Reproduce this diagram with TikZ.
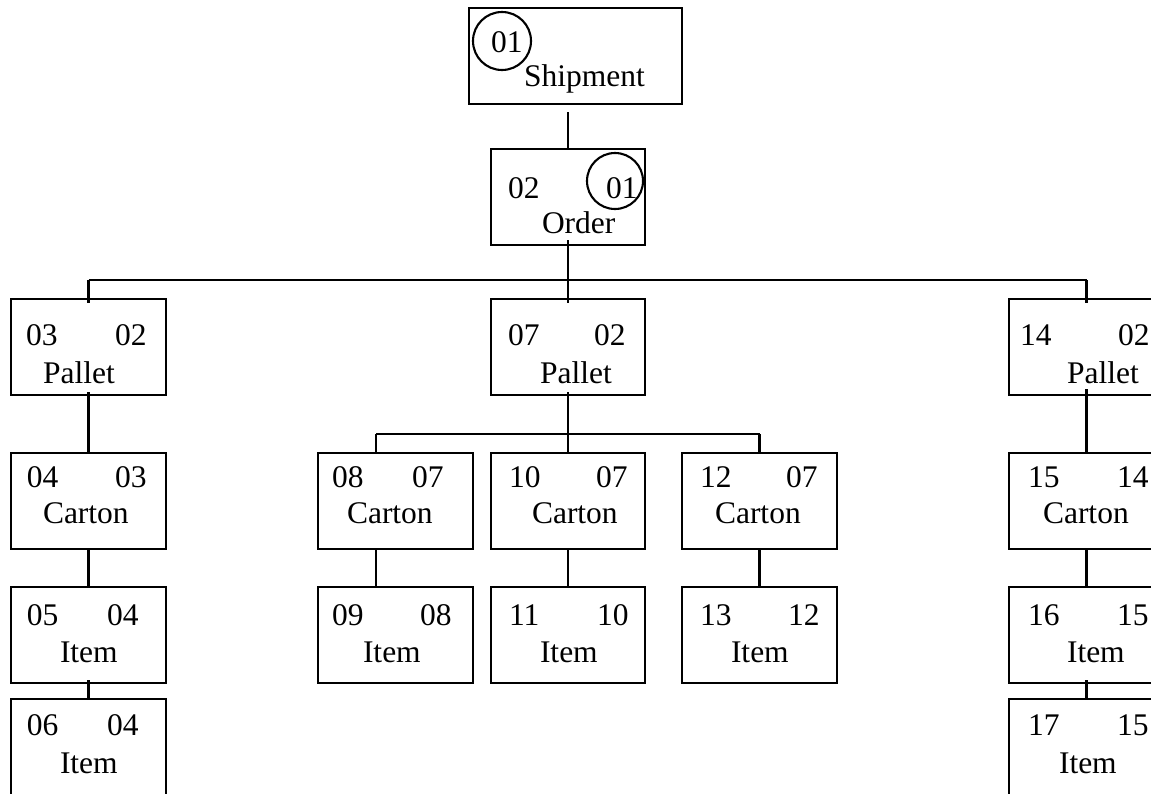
\documentclass[tikz,border=0pt]{standalone}
\usepackage{fontspec}
\setmainfont{Liberation Serif}
\usetikzlibrary{calc}
\tikzset{
 bx/.style={draw, line width=2.1pt, rectangle, inner sep=0pt, outer sep=0pt, minimum height=96pt, anchor=north west},
 tx/.style={inner sep=0pt, outer sep=0pt, anchor=base west, font=\fontsize{31.5}{36}\selectfont},
 ln/.style={line width=2.1pt},
 ring/.style={draw, circle, line width=2.1pt, inner sep=0pt, outer sep=0pt}
}
\newcommand\rbox[4]{\node[bx, minimum width=#4pt] (#1) at (#2,#3) {};}
\newcommand\btext[5]{\node[tx] (#1) at ([shift={(#3,#4)}]#2.north west) {#5};}
\begin{document}
\begin{tikzpicture}[x=1pt,y=-1pt]
\clip (0,0) rectangle (1151,793);
\fill[white] (0,0) rectangle (1151,793);
% boxes
\rbox{ship}{469}{8}{213}
\rbox{ord}{491}{149}{154}
\rbox{pL}{11}{299}{155}
\rbox{pM}{491}{299}{154}
\rbox{pR}{1009}{299}{155}
\rbox{cL}{11}{453}{155}
\rbox{c08}{318}{453}{155}
\rbox{c10}{491}{453}{154}
\rbox{c12}{682}{453}{155}
\rbox{cR}{1009}{453}{155}
\rbox{iL}{11}{587}{155}
\rbox{i09}{318}{587}{155}
\rbox{i11}{491}{587}{154}
\rbox{i13}{682}{587}{155}
\rbox{iR}{1009}{587}{155}
\rbox{jL}{11}{699}{155}
\rbox{jR}{1009}{699}{155}
% circles
\node[ring, minimum size=58pt] (ringA) at (502,41) {};
\node[ring, minimum size=56pt] (ringB) at (615,181) {};
% texts
\btext{t1}{ship}{22}{44}{01}
\btext{t2}{ship}{55}{78}{Shipment}
\btext{t3}{ord}{17}{49}{02}
\btext{t4}{ord}{115}{49}{01}
\btext{t5}{ord}{51}{84}{Order}
\btext{t6}{pL}{15}{46}{03}
\btext{t7}{pL}{104}{46}{02}
\btext{t8}{pL}{32}{84}{Pallet}
\btext{t9}{pM}{17}{46}{07}
\btext{t10}{pM}{103}{46}{02}
\btext{t11}{pM}{49}{84}{Pallet}
\btext{t12}{pR}{11}{46}{14}
\btext{t13}{pR}{109}{46}{02}
\btext{t14}{pR}{58}{84}{Pallet}
\btext{t15}{cL}{16}{34}{04}
\btext{t16}{cL}{104}{34}{03}
\btext{t17}{cL}{32}{70}{Carton}
\btext{t18}{c08}{14}{34}{08}
\btext{t19}{c08}{94}{34}{07}
\btext{t20}{c08}{29}{70}{Carton}
\btext{t21}{c10}{18}{34}{10}
\btext{t22}{c10}{105}{34}{07}
\btext{t23}{c10}{41}{70}{Carton}
\btext{t24}{c12}{18}{34}{12}
\btext{t25}{c12}{104}{34}{07}
\btext{t26}{c12}{33}{70}{Carton}
\btext{t27}{cR}{19}{34}{15}
\btext{t28}{cR}{108}{34}{14}
\btext{t29}{cR}{34}{70}{Carton}
\btext{t30}{iL}{16}{38}{05}
\btext{t31}{iL}{96}{38}{04}
\btext{t32}{iL}{49}{75}{Item}
\btext{t33}{i09}{14}{38}{09}
\btext{t34}{i09}{102}{38}{08}
\btext{t35}{i09}{45}{75}{Item}
\btext{t36}{i11}{18}{38}{11}
\btext{t37}{i11}{106}{38}{10}
\btext{t38}{i11}{49}{75}{Item}
\btext{t39}{i13}{18}{38}{13}
\btext{t40}{i13}{106}{38}{12}
\btext{t41}{i13}{49}{75}{Item}
\btext{t42}{iR}{19}{38}{16}
\btext{t43}{iR}{108}{38}{15}
\btext{t44}{iR}{58}{75}{Item}
\btext{t45}{jL}{16}{36}{06}
\btext{t46}{jL}{96}{36}{04}
\btext{t47}{jL}{49}{74}{Item}
\btext{t48}{jR}{19}{36}{17}
\btext{t49}{jR}{108}{36}{15}
\btext{t50}{jR}{50}{74}{Item}
% connectors
\coordinate (bar) at (0,280);
\coordinate (sub) at (0,434);
\coordinate (s08) at ([xshift=58pt]c08.north west);
\draw[ln] ([yshift=-8pt]ship.south -| ord.north) -- (ord.north);
\draw[ln] ([yshift=5pt]ord.south) -- ([yshift=-4pt]pM.north);
\draw[ln] (pL.north |- bar) -- (pR.north |- bar);
\draw[ln] (pL.north |- bar) -- ([yshift=-4pt]pL.north);
\draw[ln] (pR.north |- bar) -- ([yshift=-4pt]pR.north);
\draw[ln] ([yshift=3pt]pL.south) -- (cL.north);
\draw[ln] (cL.south) -- (iL.north);
\draw[ln] ([yshift=3pt]iL.south) -- (jL.north);
\draw[ln] ([yshift=6pt]pR.south) -- (cR.north);
\draw[ln] (cR.south) -- (iR.north);
\draw[ln] ([yshift=3pt]iR.south) -- (jR.north);
\draw[ln] ([yshift=3pt]pM.south) -- (c10.north);
\draw[ln] (s08 |- sub) -- (c12.north |- sub);
\draw[ln] (s08 |- sub) -- (s08);
\draw[ln] (c12.north |- sub) -- (c12.north);
\draw[ln] (s08 |- c08.south) -- (s08 |- i09.north);
\draw[ln] (c10.south) -- (i11.north);
\draw[ln] (c12.south) -- (i13.north);
\end{tikzpicture}
\end{document}
